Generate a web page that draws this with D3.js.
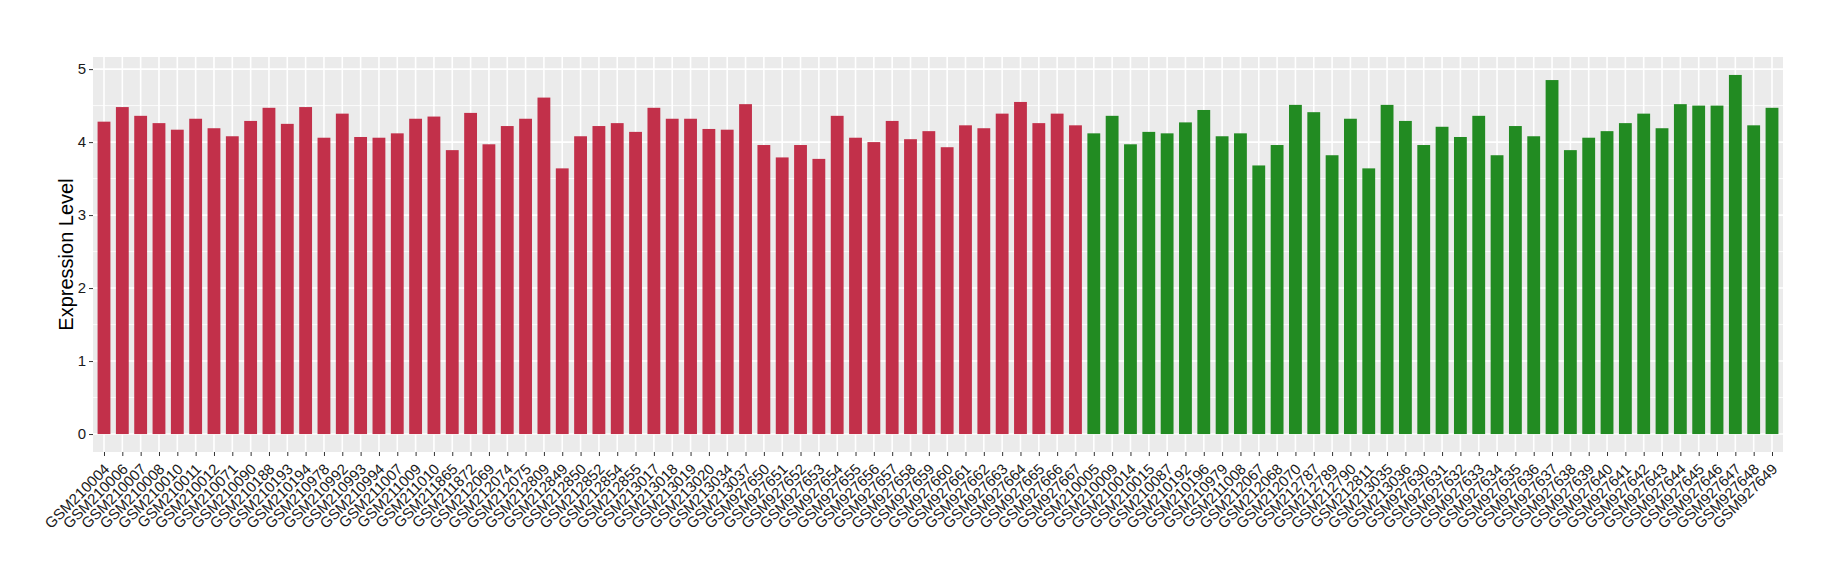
<!DOCTYPE html>
<html>
<head>
<meta charset="utf-8">
<script src="https://cdn.jsdelivr.net/npm/d3@7"></script>
<style>
  html, body { margin: 0; padding: 0; background: #fff; }
  svg { display: block; font-family: "Liberation Sans", Arial, Helvetica, sans-serif; }
</style>
</head>
<body>
<svg id="chart" width="1840" height="580"></svg>
<script>
// ---- data ----
const groupASamples = [
  "GSM210004","GSM210006","GSM210007","GSM210008","GSM210010","GSM210011","GSM210012","GSM210071",
  "GSM210090","GSM210188","GSM210193","GSM210194","GSM210978","GSM210992","GSM210993","GSM210994",
  "GSM211007","GSM211009","GSM211010","GSM211865","GSM211872","GSM212069","GSM212074","GSM212075",
  "GSM212809","GSM212849","GSM212850","GSM212852","GSM212854","GSM212855","GSM213017","GSM213018",
  "GSM213019","GSM213020","GSM213034","GSM213037","GSM927650","GSM927651","GSM927652","GSM927653",
  "GSM927654","GSM927655","GSM927656","GSM927657","GSM927658","GSM927659","GSM927660","GSM927661",
  "GSM927662","GSM927663","GSM927664","GSM927665","GSM927666","GSM927667"
];
const groupAValues = [
  4.28,4.48,4.36,4.26,4.17,4.32,4.19,4.08,
  4.29,4.47,4.25,4.48,4.06,4.39,4.07,4.06,
  4.12,4.32,4.35,3.89,4.40,3.97,4.22,4.32,
  4.61,3.64,4.08,4.22,4.26,4.14,4.47,4.32,
  4.32,4.18,4.17,4.52,3.96,3.79,3.96,3.77,
  4.36,4.06,4.00,4.29,4.04,4.15,3.93,4.23,
  4.19,4.39,4.55,4.26,4.39,4.23
];
const groupBSamples = [
  "GSM210005","GSM210009","GSM210014","GSM210015","GSM210087","GSM210192","GSM210196","GSM210979",
  "GSM211008","GSM212067","GSM212068","GSM212070","GSM212787","GSM212789","GSM212790","GSM212811",
  "GSM213035","GSM213036","GSM927630","GSM927631","GSM927632","GSM927633","GSM927634","GSM927635",
  "GSM927636","GSM927637","GSM927638","GSM927639","GSM927640","GSM927641","GSM927642","GSM927643",
  "GSM927644","GSM927645","GSM927646","GSM927647","GSM927648","GSM927649"
];
const groupBValues = [
  4.12,4.36,3.97,4.14,4.12,4.27,4.44,4.08,
  4.12,3.68,3.96,4.51,4.41,3.82,4.32,3.64,
  4.51,4.29,3.96,4.21,4.07,4.36,3.82,4.22,
  4.08,4.85,3.89,4.06,4.15,4.26,4.39,4.19,
  4.52,4.50,4.50,4.92,4.23,4.47
];
const yTicks = [0, 1, 2, 3, 4, 5];
const yTitle = "Expression Level";
const colorA = "#C2304A";
const colorB = "#228B22";

// ---- build ----
const rows = groupASamples.map((s, i) => ({ name: s, value: groupAValues[i], color: colorA }))
  .concat(groupBSamples.map((s, i) => ({ name: s, value: groupBValues[i], color: colorB })));

const svg = d3.select("#chart");
const panel = { left: 93, right: 1783, top: 57, bottom: 452 };

const ymax = d3.max(rows, d => d.value);
const y = d3.scaleLinear()
  .domain([-0.05 * ymax, ymax * 1.05])
  .range([panel.bottom, panel.top]);

const x = d3.scalePoint()
  .domain(rows.map(d => d.name))
  .range([panel.left, panel.right])
  .padding(0.6);
const bw = x.step() * 0.7;

// panel background
svg.append("rect")
  .attr("x", panel.left).attr("y", panel.top)
  .attr("width", panel.right - panel.left).attr("height", panel.bottom - panel.top)
  .attr("fill", "#EBEBEB");

// minor grid
const minor = d3.range(0.5, 5.5, 1);
svg.append("g").selectAll("line").data(minor).join("line")
  .attr("x1", panel.left).attr("x2", panel.right)
  .attr("y1", d => y(d)).attr("y2", d => y(d))
  .attr("stroke", "#fff").attr("stroke-width", 0.8);

// major grid
svg.append("g").selectAll("line").data(yTicks).join("line")
  .attr("x1", panel.left).attr("x2", panel.right)
  .attr("y1", d => y(d)).attr("y2", d => y(d))
  .attr("stroke", "#fff").attr("stroke-width", 1.6);
svg.append("g").selectAll("line").data(rows).join("line")
  .attr("x1", d => x(d.name)).attr("x2", d => x(d.name))
  .attr("y1", panel.top).attr("y2", panel.bottom)
  .attr("stroke", "#fff").attr("stroke-width", 1.6);

// bars
svg.append("g").selectAll("rect").data(rows).join("rect")
  .attr("x", d => x(d.name) - bw / 2)
  .attr("width", bw)
  .attr("y", d => y(d.value))
  .attr("height", d => y(0) - y(d.value))
  .attr("fill", d => d.color);

// y axis
const yAxis = d3.axisLeft(y).tickValues(yTicks).tickSize(4).tickPadding(3).tickFormat(d3.format("d"));
const gy = svg.append("g").attr("transform", `translate(${panel.left},0)`).call(yAxis);
gy.select(".domain").remove();
gy.selectAll(".tick line").attr("stroke", "#333");
gy.selectAll(".tick text").attr("fill", "#1a1a1a").attr("font-size", 15)
  .attr("font-family", '"Liberation Sans", Arial, sans-serif');

// x axis
const xAxis = d3.axisBottom(x).tickSize(4).tickPadding(0);
const gx = svg.append("g").attr("transform", `translate(0,${panel.bottom})`).call(xAxis);
gx.select(".domain").remove();
gx.selectAll(".tick line").attr("stroke", "#333");
gx.selectAll(".tick text")
  .attr("fill", "#1a1a1a").attr("font-size", 15)
  .attr("font-family", '"Liberation Sans", Arial, sans-serif')
  .attr("text-anchor", "end")
  .attr("y", 0).attr("dy", 0)
  .attr("transform", "translate(6,18) rotate(-45)");

// y title
svg.append("text")
  .attr("transform", `translate(73,${(panel.top + panel.bottom) / 2}) rotate(-90)`)
  .attr("text-anchor", "middle")
  .attr("font-size", 20)
  .attr("fill", "#000")
  .text(yTitle);
</script>
</body>
</html>
